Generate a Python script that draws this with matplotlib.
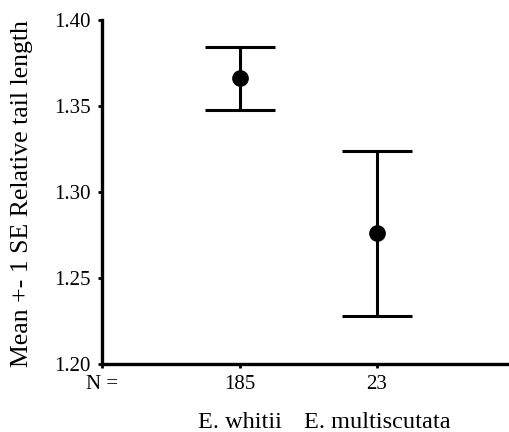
import matplotlib
matplotlib.use("Agg")
import matplotlib.pyplot as plt
from matplotlib.transforms import blended_transform_factory

species = ["E. whitii", "E. multiscutata"]
n_labels = ["185", "23"]
means = [1.366, 1.276]
se = [0.0185, 0.048]
yticks = [1.20, 1.25, 1.30, 1.35, 1.40]

plt.rcParams['font.family'] = ['Liberation Serif', 'DejaVu Serif']

fig = plt.figure(figsize=(5.09, 4.32), dpi=100)
ax = fig.add_axes([102/509, 68/432, 407/509, 344/432])

xs = [1, 2]
ax.errorbar(xs, means, yerr=se, fmt='o', color='black', markersize=11,
            elinewidth=2.2, capsize=25, capthick=2.2, clip_on=False)

ax.set_xlim(0, 2.96)
ax.set_ylim(1.20, 1.40)
ax.set_yticks(yticks)
ax.set_yticklabels([f"{v:.2f}" for v in yticks])
ax.set_xticks([0] + xs)
ax.set_xticklabels(["N ="] + n_labels)

for s in ['top', 'right']:
    ax.spines[s].set_visible(False)
for s in ['left', 'bottom']:
    ax.spines[s].set_linewidth(2.4)

ax.tick_params(axis='both', labelsize=15, width=2, length=3, direction='out')
ax.tick_params(axis='y', pad=5)
ax.tick_params(axis='x', pad=5)

fig.text(22/509, 1 - 194/432, "Mean +- 1 SE Relative tail length", rotation=90,
         ha='center', va='center', fontsize=18.5)

trans = blended_transform_factory(ax.transData, fig.transFigure)
for x, name in zip(xs, species):
    ax.text(x, 1 - 422/432, name, transform=trans, ha='center', va='center', fontsize=17.5)

fig.savefig("out.png", dpi=100)
